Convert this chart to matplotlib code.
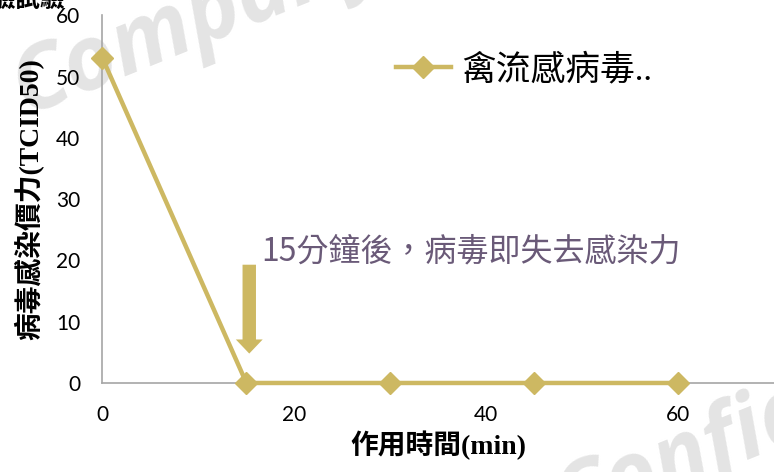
import matplotlib.pyplot as plt
from matplotlib.patches import FancyArrow

plt.rcParams["font.family"] = ["Noto Sans CJK TC", "DejaVu Sans"]

# data
minutes = [0, 15, 30, 45, 60]
titre = [53, 0, 0, 0, 0]
series_label = "禽流感病毒.."
x_ticks = [0, 20, 40, 60]
y_ticks = [0, 10, 20, 30, 40, 50, 60]

GOLD = "#CDB862"
PURPLE = "#6A5A78"
SERIF_CJK = ["Liberation Serif", "Noto Sans CJK TC"]

fig = plt.figure(figsize=(7.74, 4.72), dpi=100)
ax = fig.add_axes([0.1324, 0.1886, 0.8676, 0.779])

# watermark behind everything
fig.text(0.0, 0.76, "Company", fontsize=64, fontweight="bold", style="italic",
         color="#E4E4E4", rotation=22, family=["Open Sans", "DejaVu Sans"], zorder=-1)
fig.text(0.70, -0.12, "Confidential", fontsize=64, fontweight="bold", style="italic",
         color="#E4E4E4", rotation=22, family=["Open Sans", "DejaVu Sans"], zorder=-1)
ax.patch.set_alpha(0)

ax.plot(minutes, titre, color=GOLD, lw=3.2, marker="D", markersize=11,
        label=series_label, zorder=3, clip_on=False)

ax.set_xlim(0, 70)
ax.set_ylim(0, 60)
ax.set_xticks(x_ticks)
ax.set_yticks(y_ticks)
for side in ("top", "right"):
    ax.spines[side].set_visible(False)
for side in ("left", "bottom"):
    ax.spines[side].set_color("#A6A6A6")
    ax.spines[side].set_linewidth(1.2)
ax.tick_params(length=0, labelsize=15)
ax.tick_params(axis="x", pad=16)
ax.tick_params(axis="y", pad=16)
for lab in ax.get_xticklabels() + ax.get_yticklabels():
    lab.set_family(["Lato", "DejaVu Sans"])

ax.set_xlabel("作用時間(min)", fontsize=20, fontweight="bold", labelpad=4,
              family=SERIF_CJK)
ax.set_ylabel("病毒感染價力(TCID50)", fontsize=20, fontweight="bold", labelpad=8,
              family=SERIF_CJK)

ax.legend(loc="center left", bbox_to_anchor=(0.39, 0.85), frameon=False,
          prop={"size": 25, "family": SERIF_CJK}, handlelength=1.6,
          handletextpad=0.3)

# annotation and block arrow
ax.text(16.6, 21.5, "15分鐘後，病毒即失去感染力", fontsize=23, color=PURPLE,
        va="center", ha="left")
ax.add_patch(FancyArrow(15.3, 19.3, 0, -14.5, width=1.4, head_width=2.8,
                        head_length=2.3, length_includes_head=True,
                        color=GOLD, lw=0, zorder=4))

# partial title cut by the top edge
fig.text(-0.012, 1.0, "驗試驗", fontsize=18, fontweight="bold", ha="left", va="center")

fig.savefig("out.png", dpi=100)
